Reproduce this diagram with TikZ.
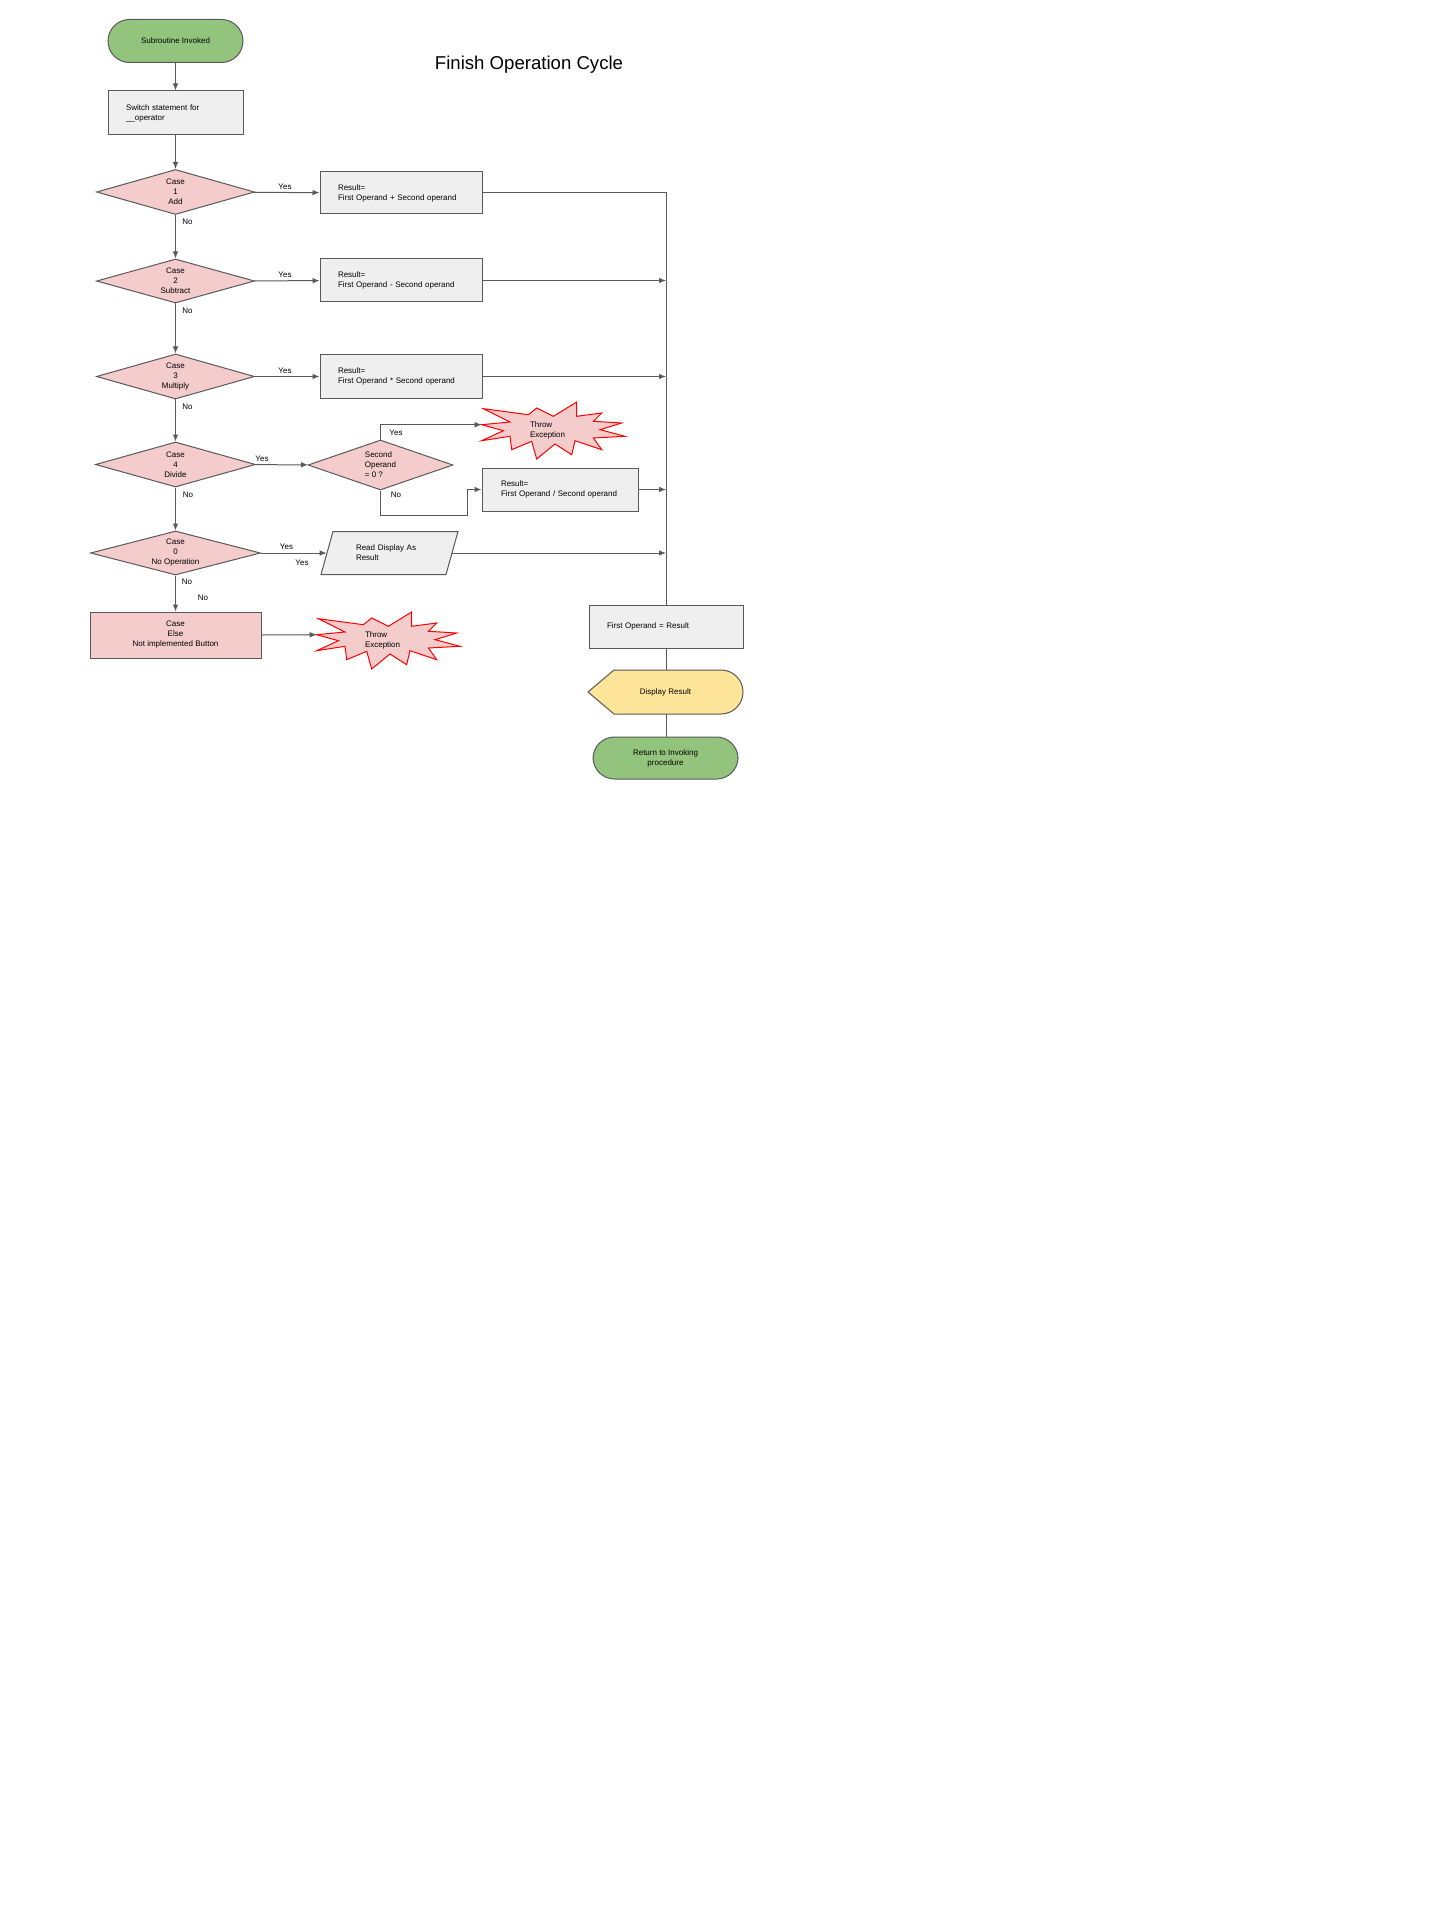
\documentclass[tikz,border=0pt]{standalone}
\usepackage{fontspec}
\setmainfont{Liberation Sans}
\usetikzlibrary{shapes.geometric,arrows.meta,calc,backgrounds}
\definecolor{tgreen}{HTML}{93C47D}
\definecolor{pinkf}{HTML}{F4CCCC}
\definecolor{grayf}{HTML}{EFEFEF}
\definecolor{yellowf}{HTML}{FFE599}
\definecolor{lineg}{HTML}{595959}
\definecolor{boomred}{HTML}{FF0000}
\newcommand\smallfs{\fontsize{4}{5}\selectfont}
\newcommand\boomat[1]{%
  \begin{pgfonlayer}{background}
  \draw[boomline, shift={(#1.center)}] (-71.7,-5.8) -- (-43.4,-8.5) -- (-70,-21.8) -- (-25,-15.8)
    -- (-16.7,-22.5) -- (0,-14.2) -- (23.3,-28.5) -- (23.3,-14.2) -- (48.3,-17.5) -- (40,-9.2)
    -- (68.3,-7.5) -- (46.6,-0.8) -- (71.6,5.8) -- (40,7.5) -- (48.3,19.2) -- (21.6,10.2)
    -- (18.3,24.2) -- (1.6,13.5) -- (-16.7,28.5) -- (-21.7,10.8) -- (-41.7,19.2) -- (-43.4,5.8)
    -- (-71.7,10.2) -- (-50,0.2) -- cycle;
  \end{pgfonlayer}}
\begin{document}
\begin{tikzpicture}[x=0.5pt,y=-0.5pt,
  txt/.style={font=\smallfs, text=black, inner sep=0pt},
  term/.style={txt, draw=lineg, line width=0.5pt, fill=tgreen, rounded corners=10.75pt, align=center},
  box/.style={txt, rectangle, draw=lineg, line width=0.5pt, fill=grayf},
  lbox/.style={box, align=left, inner xsep=9pt},
  dec/.style={txt, diamond, draw=lineg, line width=0.5pt, fill=pinkf, aspect=3.5, align=center,
              minimum width=79pt, minimum height=22.5pt},
  shapeline/.style={draw=lineg, line width=0.5pt},
  boomline/.style={draw=boomred, line width=0.5pt, fill=pinkf, line join=miter},
  conn/.style={draw=lineg, line width=0.5pt},
  arr/.style={conn, -{Latex[length=3.5pt,width=2.8pt]}},
  lab/.style={txt}
]
\begin{pgfonlayer}{background}
\fill[white] (0,0) rectangle (1440,1920);
\end{pgfonlayer}
\useasboundingbox (0,0) rectangle (1440,1920);

% title
\node[txt, font=\fontsize{9.3}{11}\selectfont] (title) at (529,65) {Finish Operation Cycle};

% left column
\node[term, minimum width=67.5pt, minimum height=21.5pt] (start) at (175.5,41) {Subroutine Invoked};
\node[lbox, text width=49.5pt, minimum height=22pt] (sw) at (175.5,113) {Switch statement for\\\_\_operator};
\node[dec] (d1) at (175.5,192) {Case\\1\\Add};
\node[dec, minimum height=22pt] (d2) at (175.5,281) {Case\\2\\Subtract};
\node[dec] (d3) at (175.5,376.5) {Case\\3\\Multiply};
\node[dec, minimum width=80pt] (d4) at (175.5,464.5) {Case\\4\\Divide};
\node[dec, minimum width=85pt, minimum height=22pt, aspect=3.8] (d5) at (175.5,553) {Case\\0\\No Operation};
\node[box, fill=pinkf, align=center, minimum width=85.5pt, minimum height=23pt] (else) at (175.5,635) {Case\\Else\\Not implemented Button};

% result boxes
\node[lbox, text width=63pt, minimum height=21pt] (r1) at (401,193) {Result=\\First Operand + Second operand};
\node[lbox, text width=63pt, minimum height=21.5pt] (r2) at (401,280.5) {Result=\\First Operand - Second operand};
\node[lbox, text width=63pt, minimum height=21.5pt] (r3) at (401,376.5) {Result=\\First Operand * Second operand};

% divide branch
\node[dec, minimum width=72.5pt, minimum height=25pt, aspect=2.9, align=left] (dz) at (380.5,465) {Second\\Operand\\= 0 ?};
\node[txt, align=left, text width=23.4pt, inner xsep=24.15pt, minimum height=28.5pt] (thr1) at (553.4,430.5) {Throw\\Exception};
\boomat{thr1}
\coordinate (thr1tip) at ($(thr1.center)+(-71.7,-5.8)$);
\node[lbox, text width=59pt, inner xsep=9.5pt, minimum height=21.5pt] (r4) at (560,489.5) {Result=\\First Operand / Second operand};

% no operation branch
\node[txt, align=left, inner xsep=14.5pt, text width=33.5pt, minimum height=21.5pt] (par) at (389.5,553) {Read Display As\\Result};
\begin{pgfonlayer}{background}
\draw[shapeline, fill=grayf] ($(par.center)+(-68.5,21.5)$) -- ($(par.center)+(-56.5,-21.5)$)
  -- ($(par.center)+(68.5,-21.5)$) -- ($(par.center)+(56.5,21.5)$) -- cycle;
\end{pgfonlayer}

% else branch
\node[txt, align=left, text width=23.4pt, inner xsep=24.15pt, minimum height=28.5pt] (thr2) at (388.4,640.5) {Throw\\Exception};
\boomat{thr2}
\coordinate (thr2tip) at ($(thr2.center)+(-71.7,-5.8)$);

% right column
\node[lbox, text width=59pt, minimum height=21.5pt] (fo) at (666,626.5) {First Operand = Result};
\node[txt, minimum width=77.5pt, minimum height=22pt] (disp) at (665.5,692) {Display Result};
\begin{pgfonlayer}{background}
\draw[shapeline, fill=yellowf] ($(disp.center)+(-77.5,0)$) -- ($(disp.center)+(-51.5,-22)$)
  -- ($(disp.center)+(55.5,-22)$) arc[start angle=90,end angle=-90,radius=11pt]
  -- ($(disp.center)+(-51.5,22)$) -- cycle;
\end{pgfonlayer}
\node[term, minimum width=72.5pt, minimum height=21pt] (ret) at (665.5,758) {Return to Invoking\\procedure};

% connectors
\draw[arr] (start) -- (sw);
\draw[arr] (sw) -- (d1);
\draw[arr] (d1) -- (r1);
\draw[arr] (d1) -- (d2);
\draw[arr] (d2) -- (r2);
\draw[arr] (d2) -- (d3);
\draw[arr] (d3) -- (r3);
\draw[arr] (d3) -- (d4);
\draw[arr] (d4) -- (dz);
\draw[arr] (d4) -- (d5);
\draw[arr] (d5.east) -- (par.west);
\draw[arr] (d5) -- (else);
\draw[arr] (else.east) -- (thr2tip);
\draw[arr] (dz.north) |- (thr1tip);
\draw[arr] (dz.south) -- ++(0,25) -| ($(r4.west)+(-14,0)$) -- (r4.west);
\draw[conn] (r1.east) -| (fo.north);
\draw[arr] (r2.east) -- (r2.east -| fo.north);
\draw[arr] (r3.east) -- (r3.east -| fo.north);
\draw[arr] (r4.east) -- (r4.east -| fo.north);
\draw[arr] (par.east) -- (par.east -| fo.north);
\draw[conn] (fo.south) -- (fo.south |- disp.north);
\draw[conn] (fo.south |- disp.south) -- (fo.south |- ret.north);

% labels
\node[lab] (y1) at (285,187) {Yes};
\node[lab] (n1) at (187.5,222) {No};
\node[lab] (y2) at (285,275) {Yes};
\node[lab] (n2) at (187.5,311) {No};
\node[lab] (y3) at (285,371) {Yes};
\node[lab] (n3) at (187.5,407) {No};
\node[lab] (y4) at (262,459) {Yes};
\node[lab] (n4) at (188,495) {No};
\node[lab] (yz) at (396,433) {Yes};
\node[lab] (nz) at (396,495) {No};
\node[lab] (y5a) at (286.5,547) {Yes};
\node[lab] (y5b) at (302,563) {Yes};
\node[lab] (n5a) at (187,582) {No};
\node[lab] (n5b) at (203,598) {No};
\end{tikzpicture}
\end{document}
